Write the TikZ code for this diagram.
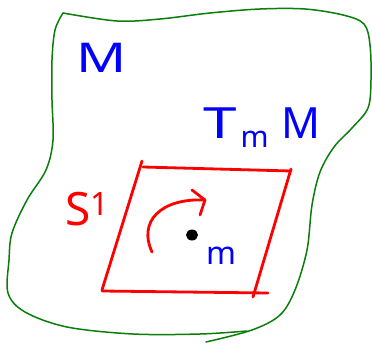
\documentclass[tikz,border=0pt]{standalone}
\usepackage{fontspec}
\setmainfont{Noto Sans}
\usepackage{xcolor}
\usetikzlibrary{calc, arrows.meta, positioning, shapes.geometric}

\definecolor{mfgreen}{RGB}{10,125,10}

\begin{document}
\begin{tikzpicture}[x=1pt, y=-1pt, line cap=round, line join=round,
  lbl/.style={inner sep=0pt, font=\fontsize{41}{41}\selectfont},
  sheet/.style={red, line width=2.8pt}]
  \useasboundingbox (0,0) rectangle (372,345);
  % the manifold (hand drawn outline, two strokes)
  \draw[mfgreen, line width=1.5pt] plot[smooth, tension=0.55] coordinates {
    (247,331) (200,334) (133,334) (67,327) (25,312) (8,293) (9,260) (12,233)
    (27,200) (46,170) (53,140) (52,100) (52,60) (55,30) (63,13)};
  \draw[mfgreen, line width=1.5pt] plot[smooth, tension=0.55] coordinates {
    (63,13) (117,21) (160,19) (210,13) (260,9) (305,9) (343,15) (364,24)
    (370,45) (371,80) (368,108) (352,128) (334,147) (320,172) (312,205)
    (307,250) (295,290) (280,315) (252,330) (206,342)};
  \node[lbl, blue, anchor=base west] (M) at (76,72) {\scalebox{1.35}[1]{M}};
  % tangent plane
  \draw[sheet] (142,161) -- (102,290);
  \draw[sheet] (143,167) -- (291,171);
  \draw[sheet] (291,169) -- (253,297);
  \draw[sheet] (102,291) -- (268,293);
  \node[lbl, blue, anchor=base west, font=\fontsize{43}{43}\selectfont] (TmM)
    at (203,138) {\scalebox{1.4}[1]{T}\hspace{4pt}\raisebox{-9pt}{\fontsize{30}{30}\selectfont m}\hspace{13pt}M};
  % circle action
  \node[lbl, red, anchor=base west, font=\fontsize{46}{46}\selectfont] (S1)
    at (65,225) {S\textsuperscript{1}};
  \draw[sheet] (152,252) .. controls (138,222) and (160,198) .. (205,200);
  \draw[sheet] (192,190) -- (205,200) -- (200,215);
  % the point
  \node[fill, black, ellipse, inner sep=0pt, minimum width=12pt,
    minimum height=11pt] (pt) at (192,235) {};
  \node[lbl, blue, anchor=base west, font=\fontsize{32}{32}\selectfont] (m)
    at (206,264) {m};
\end{tikzpicture}
\end{document}
